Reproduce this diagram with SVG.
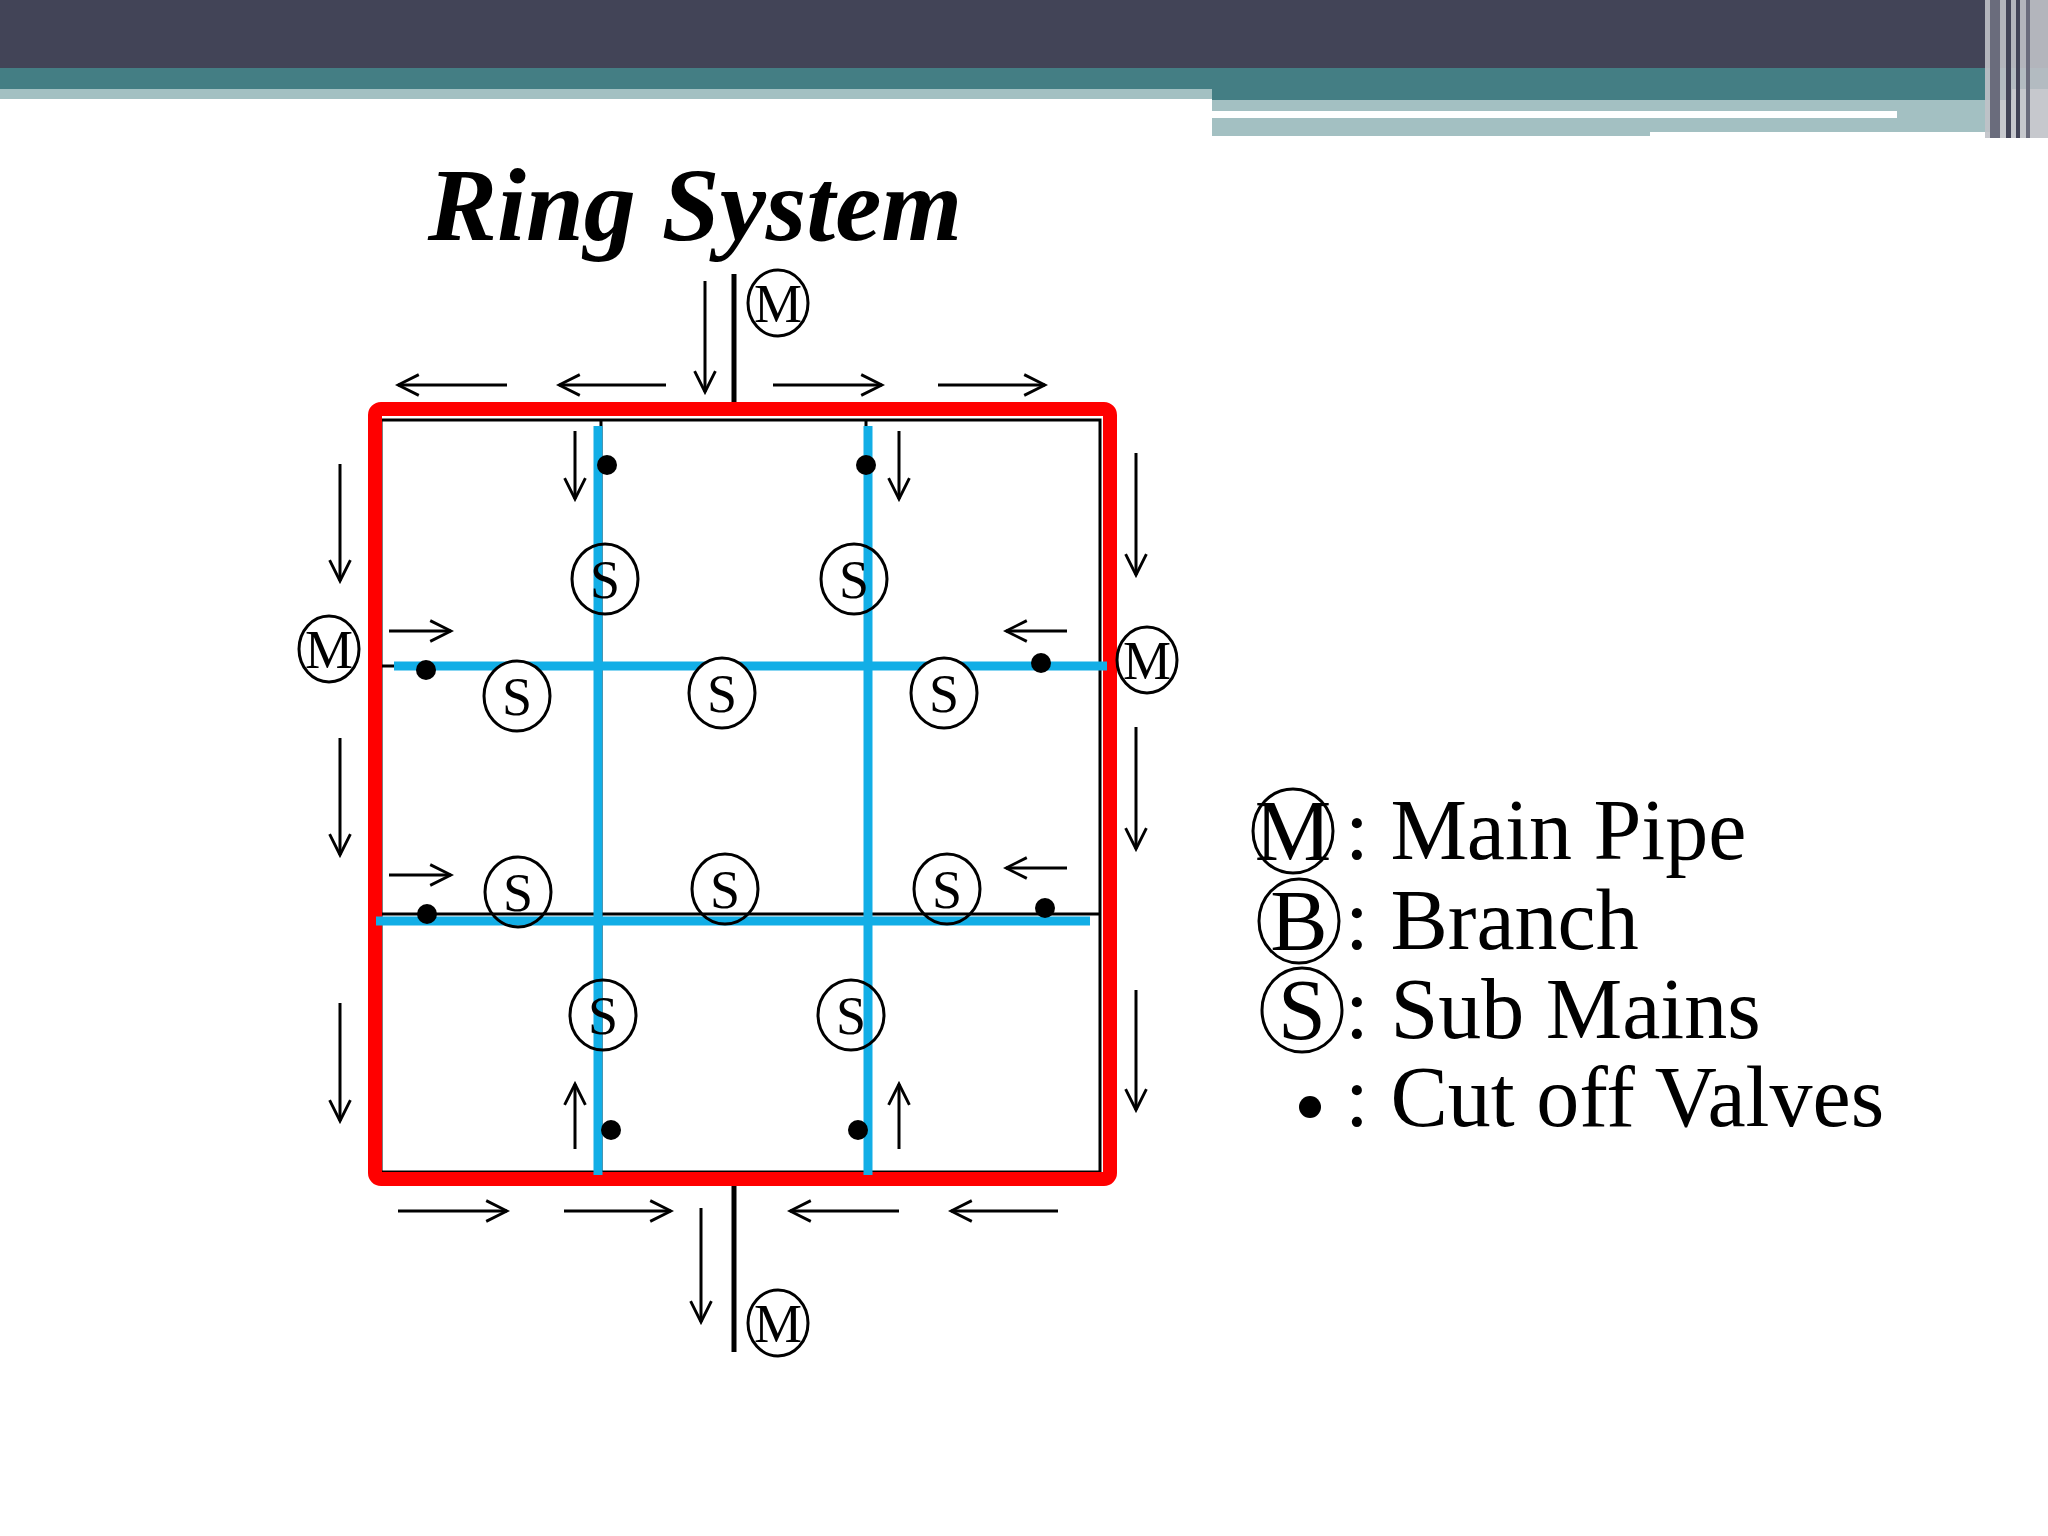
<svg xmlns="http://www.w3.org/2000/svg" width="2048" height="1536" viewBox="0 0 2048 1536">
<defs>
<marker id="ah" viewBox="0 0 20 20" refX="18" refY="10" markerWidth="26" markerHeight="26" markerUnits="userSpaceOnUse" orient="auto"><path d="M2,2 L18,10 L2,18" fill="none" stroke="#000" stroke-width="2.2"/></marker>
</defs>
<style>
.ar{stroke:#000;stroke-width:3;fill:none;marker-end:url(#ah)}
.c{fill:#fff;stroke:#000;stroke-width:3}
.lt{font-family:"Liberation Serif",serif;font-size:54px;fill:#000;text-anchor:middle}
.lg{font-family:"Liberation Serif",serif;font-size:86px;fill:#000}
.bl{stroke:#12aee6;stroke-width:9}
.dot{fill:#000}
</style>
<rect width="2048" height="1536" fill="#fff"/>
<g id="header">
<rect x="0" y="0" width="2048" height="68" fill="#424457"/>
<rect x="0" y="68" width="2048" height="21" fill="#447e84"/>
<rect x="0" y="89" width="1212" height="10" fill="#a3c0c2"/>
<rect x="1212" y="89" width="800" height="11" fill="#447e84"/>
<rect x="1212" y="100" width="780" height="36" fill="#a3c0c2"/>
<rect x="1212" y="111" width="685" height="7" fill="#fff"/>
<rect x="1650" y="132" width="350" height="6" fill="#fff"/>
<rect x="1985" y="0" width="63" height="138" fill="#c0c2c8" opacity="0.9"/>
<rect x="1990" y="0" width="10" height="138" fill="#6a6c7c"/>
<rect x="2006" y="0" width="5" height="138" fill="#424457"/>
<rect x="2016" y="0" width="4" height="138" fill="#424457"/>
<rect x="2026" y="0" width="4" height="138" fill="#6a6c7c"/>
</g>
<text id="title" x="695" y="240" font-family="Liberation Serif,serif" font-size="104" font-weight="bold" font-style="italic" text-anchor="middle">Ring System</text>
<g id="grid" stroke="#000" stroke-width="3" fill="none">
<rect x="381" y="420" width="719" height="752"/>
<line x1="601" y1="420" x2="601" y2="1172"/>
<line x1="866" y1="420" x2="866" y2="1172"/>
<line x1="381" y1="666" x2="1100" y2="666"/>
<line x1="381" y1="914" x2="1100" y2="914"/>
<line x1="734" y1="274" x2="734" y2="409" stroke-width="5"/>
<line x1="734" y1="1182" x2="734" y2="1352" stroke-width="5"/>
</g>
<g id="ring"><rect x="375" y="409" width="735" height="770" rx="6" fill="none" stroke="#f00" stroke-width="14"/></g>
<g id="blue">
<line class="bl" x1="598" y1="426" x2="598" y2="1175"/>
<line class="bl" x1="868" y1="426" x2="868" y2="1175"/>
<line class="bl" x1="394" y1="666" x2="1107" y2="666"/>
<line class="bl" x1="376" y1="921" x2="1090" y2="921"/>
</g>
<g id="connectors">
<line class="ar" x1="705" y1="281" x2="705" y2="392"/>
<line class="ar" x1="701" y1="1208" x2="701" y2="1322"/>
<line class="ar" x1="507" y1="385" x2="398" y2="385"/>
<line class="ar" x1="666" y1="385" x2="559" y2="385"/>
<line class="ar" x1="773" y1="385" x2="882" y2="385"/>
<line class="ar" x1="938" y1="385" x2="1045" y2="385"/>
<line class="ar" x1="398" y1="1211" x2="507" y2="1211"/>
<line class="ar" x1="564" y1="1211" x2="671" y2="1211"/>
<line class="ar" x1="899" y1="1211" x2="790" y2="1211"/>
<line class="ar" x1="1058" y1="1211" x2="951" y2="1211"/>
<line class="ar" x1="340" y1="464" x2="340" y2="581"/>
<line class="ar" x1="340" y1="738" x2="340" y2="855"/>
<line class="ar" x1="340" y1="1003" x2="340" y2="1121"/>
<line class="ar" x1="1136" y1="453" x2="1136" y2="575"/>
<line class="ar" x1="1136" y1="727" x2="1136" y2="849"/>
<line class="ar" x1="1136" y1="990" x2="1136" y2="1110"/>
<line class="ar" x1="575" y1="431" x2="575" y2="499"/>
<line class="ar" x1="899" y1="431" x2="899" y2="499"/>
<line class="ar" x1="575" y1="1149" x2="575" y2="1084"/>
<line class="ar" x1="899" y1="1149" x2="899" y2="1084"/>
<line class="ar" x1="389" y1="631" x2="451" y2="631"/>
<line class="ar" x1="389" y1="875" x2="451" y2="875"/>
<line class="ar" x1="1067" y1="631" x2="1006" y2="631"/>
<line class="ar" x1="1067" y1="868" x2="1006" y2="868"/>
</g>
<g id="valves">
<circle class="dot" cx="607" cy="465" r="10"/><circle class="dot" cx="866" cy="465" r="10"/>
<circle class="dot" cx="426" cy="670" r="10"/><circle class="dot" cx="1041" cy="663" r="10"/>
<circle class="dot" cx="427" cy="914" r="10"/><circle class="dot" cx="1045" cy="908" r="10"/>
<circle class="dot" cx="611" cy="1130" r="10"/><circle class="dot" cx="858" cy="1130" r="10"/>
</g>
<g id="mains">
<g id="m-top"><ellipse class="c" cx="778" cy="303" rx="30" ry="33"/><text class="lt" x="778" y="322">M</text></g>
<g id="m-bottom"><ellipse class="c" cx="778" cy="1323" rx="30" ry="33"/><text class="lt" x="778" y="1342">M</text></g>
<g id="m-left"><ellipse class="c" cx="329" cy="649" rx="30" ry="33"/><text class="lt" x="329" y="668">M</text></g>
<g id="m-right"><ellipse class="c" cx="1147" cy="660" rx="30" ry="33"/><text class="lt" x="1147" y="679">M</text></g>
</g>
<g id="submains">
<g><ellipse class="c" cx="605" cy="579" rx="33" ry="35" style="fill:none"/><text class="lt" x="605" y="598">S</text></g>
<g><ellipse class="c" cx="854" cy="579" rx="33" ry="35" style="fill:none"/><text class="lt" x="854" y="598">S</text></g>
<g><ellipse class="c" cx="517" cy="696" rx="33" ry="35"/><text class="lt" x="517" y="715">S</text></g>
<g><ellipse class="c" cx="722" cy="693" rx="33" ry="35"/><text class="lt" x="722" y="712">S</text></g>
<g><ellipse class="c" cx="944" cy="693" rx="33" ry="35"/><text class="lt" x="944" y="712">S</text></g>
<g><ellipse class="c" cx="518" cy="892" rx="33" ry="35" style="fill:none"/><text class="lt" x="518" y="911">S</text></g>
<g><ellipse class="c" cx="725" cy="889" rx="33" ry="35" style="fill:none"/><text class="lt" x="725" y="908">S</text></g>
<g><ellipse class="c" cx="947" cy="889" rx="33" ry="35" style="fill:none"/><text class="lt" x="947" y="908">S</text></g>
<g><ellipse class="c" cx="603" cy="1015" rx="33" ry="35" style="fill:none"/><text class="lt" x="603" y="1034">S</text></g>
<g><ellipse class="c" cx="851" cy="1015" rx="33" ry="35" style="fill:none"/><text class="lt" x="851" y="1034">S</text></g>
</g>
<g id="legend">
<ellipse class="c" cx="1293" cy="831" rx="40" ry="42"/><text class="lg" x="1293" y="860" text-anchor="middle">M</text>
<text class="lg" x="1345" y="859">: Main Pipe</text>
<ellipse class="c" cx="1299" cy="921" rx="40" ry="42"/><text class="lg" x="1299" y="950" text-anchor="middle">B</text>
<text class="lg" x="1345" y="949">: Branch</text>
<ellipse class="c" cx="1302" cy="1010" rx="40" ry="42"/><text class="lg" x="1302" y="1039" text-anchor="middle">S</text>
<text class="lg" x="1345" y="1038">: Sub Mains</text>
<circle class="dot" cx="1310" cy="1107" r="11"/>
<text class="lg" x="1345" y="1126">: Cut off Valves</text>
</g>
</svg>
